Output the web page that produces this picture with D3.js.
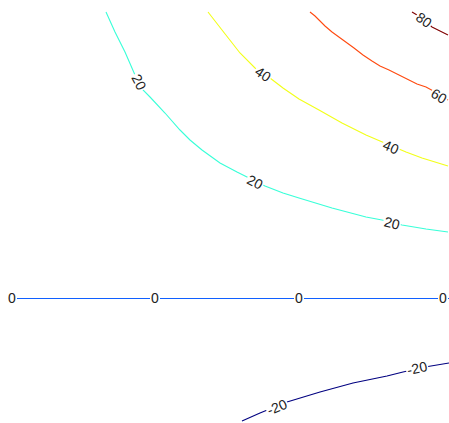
<!DOCTYPE html>
<html><head><meta charset="utf-8">
<script src="https://cdn.jsdelivr.net/npm/d3@7"></script>
<style>html,body{margin:0;padding:0;background:#fff;}svg{display:block;}</style>
</head><body>
<svg id="chart" width="449" height="423"></svg>
<script>
// contour levels and colours
const levels = [-20, 0, 20, 40, 60, 80];
const levelColors = ["#000080", "#1060ff", "#38ffd8", "#f2ff18", "#ff4a10", "#800000"];

// contour paths (data units)
const lineM20 = [[2.42,-1.23],[2.60,-1.15],[2.87,-1.04],[3.20,-0.94],[3.53,-0.85],[3.87,-0.78],[4.03,-0.74],[4.25,-0.69],[4.49,-0.65]];
const line0 = [[0.07,0],[1.55,0],[2.99,0],[4.49,0]];
const line20 = [[1.06,2.86],[1.15,2.66],[1.25,2.46],[1.35,2.23],[1.43,2.08],[1.50,2.01],[1.65,1.85],[1.80,1.68],[1.90,1.58],[2.02,1.48],[2.20,1.35],[2.37,1.26],[2.47,1.21],[2.65,1.12],[2.83,1.05],[2.99,1.00],[3.32,0.90],[3.66,0.81],[3.82,0.78],[4.02,0.73],[4.26,0.69],[4.48,0.66]];
const line40 = [[2.08,2.86],[2.22,2.68],[2.40,2.45],[2.55,2.30],[2.70,2.20],[2.83,2.10],[2.99,1.99],[3.19,1.88],[3.42,1.75],[3.66,1.63],[3.80,1.57],[4.06,1.46],[4.22,1.40],[4.48,1.32]];
const line60 = [[3.10,2.86],[3.15,2.82],[3.19,2.78],[3.25,2.72],[3.32,2.66],[3.43,2.58],[3.54,2.50],[3.63,2.43],[3.72,2.37],[3.80,2.32],[3.89,2.28],[3.99,2.23],[4.09,2.18],[4.17,2.14],[4.26,2.11],[4.37,2.05],[4.48,1.98]];
const line80 = [[4.12,2.86],[4.17,2.83],[4.24,2.78],[4.32,2.71],[4.40,2.67],[4.48,2.63]];

// label positions (data units)
const labelsM20 = [[2.77,-1.09],[4.17,-0.70]];
const labels0 = [[0.12,0],[1.55,0],[2.99,0],[4.43,0]];
const labels20 = [[1.39,2.16],[2.55,1.16],[3.92,0.75]];
const labels40 = [[2.63,2.24],[3.91,1.51]];
const labels60 = [[4.39,2.02]];
const labels80 = [[4.24,2.78]];

const contourLines = [lineM20, line0, line20, line40, line60, line80];
const contourLabels = [labelsM20, labels0, labels20, labels40, labels60, labels80];

const W = 449, H = 423;
const x = d3.scaleLinear().domain([0, 4.49]).range([0, W]);
const y = d3.scaleLinear().domain([-1.25, 2.98]).range([H, 0]);

const svg = d3.select("#chart");
const line = d3.line().x(d => x(d[0])).y(d => y(d[1])).curve(d3.curveLinear);

const gLines = svg.append("g");
const gLabels = svg.append("g");

function angleAt(pts, px, py) {
  let best = Infinity, ang = 0;
  for (let i = 0; i < pts.length - 1; i++) {
    const ax = x(pts[i][0]), ay = y(pts[i][1]);
    const bx = x(pts[i+1][0]), by = y(pts[i+1][1]);
    const dx = bx - ax, dy = by - ay;
    const len2 = dx*dx + dy*dy;
    let t = len2 ? ((px-ax)*dx + (py-ay)*dy) / len2 : 0;
    t = Math.max(0, Math.min(1, t));
    const cx = ax + t*dx, cy = ay + t*dy;
    const d = (px-cx)*(px-cx) + (py-cy)*(py-cy);
    if (d < best) { best = d; ang = Math.atan2(dy, dx) * 180 / Math.PI; }
  }
  if (ang > 90) ang -= 180;
  if (ang < -90) ang += 180;
  return ang;
}

levels.forEach((lv, i) => {
  gLines.append("path")
    .datum(contourLines[i])
    .attr("d", line)
    .attr("fill", "none")
    .attr("stroke", levelColors[i])
    .attr("stroke-width", lv === 0 ? 1 : 1.1)
    .attr("transform", lv === 0 ? "translate(0,0.5)" : null)
    .attr("shape-rendering", lv === 0 ? "crispEdges" : null);

  contourLabels[i].forEach(p => {
    const px = x(p[0]), py = y(p[1]);
    const a = angleAt(contourLines[i], px, py);
    const g = gLabels.append("g").attr("transform", `translate(${px},${py}) rotate(${a})`);
    const t = g.append("text")
      .attr("text-anchor", "middle")
      .attr("dy", "0.36em")
      .attr("font-family", "Liberation Sans, Arial, sans-serif")
      .attr("font-size", 14)
      .attr("fill", "#222")
      .text(String(lv));
    const bb = t.node().getBBox();
    g.insert("rect", "text")
      .attr("x", -bb.width/2 - 1)
      .attr("y", -4)
      .attr("width", bb.width + 2)
      .attr("height", 8)
      .attr("fill", "#fff");
  });
});
</script>
</body></html>
